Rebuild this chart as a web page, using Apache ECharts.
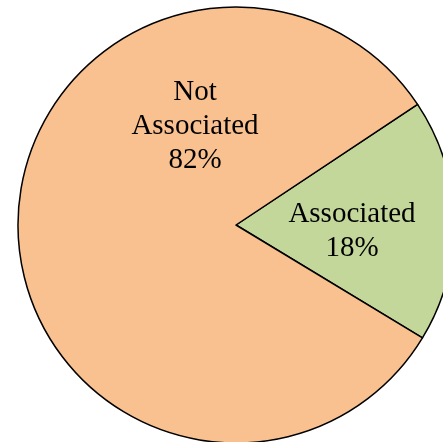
<!DOCTYPE html>
<html>
<head>
<meta charset="utf-8">
<script src="https://cdn.jsdelivr.net/npm/echarts@6/dist/echarts.min.js"></script>
<style>
  html, body { margin: 0; padding: 0; background: #fff; }
  #chart { width: 443px; height: 442px; }
</style>
</head>
<body>
<div id="chart"></div>
<script>
// slice data
var categories = ['Associated', 'Not Associated'];
var shares = [18, 82];
var sliceColors = ['#C4D79B', '#F9C090'];

var chart = echarts.init(document.getElementById('chart'));

// label anchor points (label layout only)
var labelSpots = [[352, 231], [195, 126]];

chart.setOption({
  animation: false,
  series: [{
    type: 'pie',
    center: [236, 225],
    radius: 218,
    startAngle: 33.6,
    clockwise: true,
    avoidLabelOverlap: false,
    silent: true,
    data: categories.map(function (c, i) {
      return { name: c, value: shares[i], itemStyle: { color: sliceColors[i] } };
    }),
    itemStyle: { borderColor: '#000', borderWidth: 1.5 },
    label: {
      show: true,
      position: 'inside',
      formatter: function (p) {
        return p.name.replace(' ', '\n') + '\n' + p.value + '%';
      },
      fontFamily: '"Liberation Serif", "Times New Roman", serif',
      fontSize: 29,
      lineHeight: 34,
      color: '#000',
      align: 'center'
    },
    labelLine: { show: false },
    labelLayout: function (params) {
      var s = labelSpots[params.dataIndex];
      return { x: s[0], y: s[1], align: 'center', verticalAlign: 'middle' };
    }
  }]
});
</script>
</body>
</html>
